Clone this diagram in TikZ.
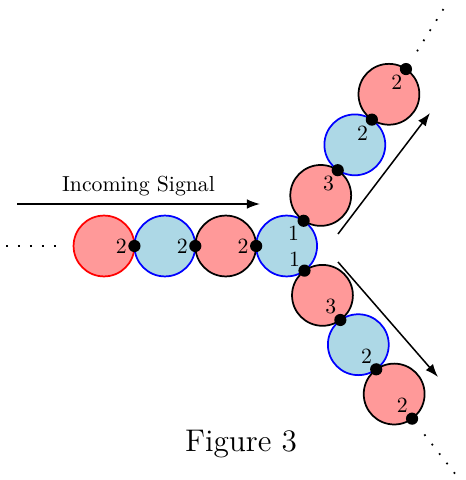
\documentclass[tikz,border=0pt]{standalone}
\usepackage{xcolor}
\usepackage{tikz}
\usetikzlibrary{positioning,arrows.meta,calc}
\definecolor{cellred}{HTML}{FF9999}
\definecolor{cellblue}{HTML}{ADD8E6}
\tikzset{
  cell/.style ={circle, minimum size=28pt, inner sep=0pt, outer sep=0pt,
                line width=0.8pt},
  rcell/.style={cell, draw=black, fill=cellred},
  bcell/.style={cell, draw=blue, fill=cellblue},
  joint/.style={circle, fill=black, inner sep=0pt, minimum size=5.6pt},
  plab/.style ={inner sep=0pt, font=\normalsize},
  % dotted continuation of a chain past the picture
  trail/.style={line width=0.8pt, dash pattern=on 0.8pt off 4.72pt},
  flow/.style ={line width=0.7pt, -{Latex[length=6pt,width=4.4pt]}},
}
\begin{document}
\begin{tikzpicture}[x=0.46pt,y=0.46pt]
\useasboundingbox (0,0) rectangle (466,480);
% incoming chain
\node[rcell,draw=red] (c1) at (104,234) {};
\node[bcell,right=0pt of c1] (c2) {};
\node[rcell,right=0pt of c2] (c3) {};
\node[bcell,right=0pt of c3] (c4) {};
% the two branches
\foreach \n/\p/\s in {u1/c4/rcell, u2/u1/bcell, u3/u2/rcell}
  {\path (\p) ++(56:61) node[\s] (\n) {};}
\foreach \n/\p/\s in {d1/c4/rcell, d2/d1/bcell, d3/d2/rcell}
  {\path (\p) ++(-54:61) node[\s] (\n) {};}
% contact points and their labels
\foreach \a/\j in {c1/jA, c2/jB, c3/jC}
  {\node[joint] (\j) at (\a.east) {};
   \node[plab] (l\j) at ($(\j)!0.43!(\a)$) {2};}
\node[joint] (jU0) at (c4.56) {};
\node[joint] (jD0) at (c4.-54) {};
\node[plab] (ljU0) at ($(jU0)+(-10,-12)$) {1};
\node[plab] (ljD0) at ($(jD0)+(-10,11)$) {1};
\foreach \a/\j/\t in {u1/jU1/3, u2/jU2/2, u3/jU3/2}
  {\node[joint] (\j) at (\a.56) {};
   \node[plab] (l\j) at ($(\j)!0.54!(\a)$) {\t};}
\foreach \a/\j/\t in {d1/jD1/3, d2/jD2/2, d3/jD3/2}
  {\node[joint] (\j) at (\a.-54) {};
   \node[plab] (l\j) at ($(\j)!0.54!(\a)$) {\t};}
% trails
\coordinate (tL) at (6,234);
\draw[trail,shorten >=6.4pt] (tL) -- (c1.west);
\path (jU3) ++(58:21) coordinate (tU1) ++(58:53) coordinate (tU2);
\draw[trail] (tU1) -- (tU2);
\path (jD3) ++(-52:20) coordinate (tD1) ++(-52:54) coordinate (tD2);
\draw[trail] (tD1) -- (tD2);
% signal direction
\coordinate (sA) at (17,276);
\coordinate (sB) at (260,276);
\draw[flow] (sA) -- (sB) node[midway,above] (sig) {Incoming Signal};
\coordinate (aU1) at (338,246);
\coordinate (aU2) at (430,367);
\draw[flow] (aU1) -- (aU2);
\coordinate (aD1) at (338,218);
\coordinate (aD2) at (438,103);
\draw[flow] (aD1) -- (aD2);
\node[font=\Large] (cap) at (241,36) {Figure 3};
\end{tikzpicture}
\end{document}
